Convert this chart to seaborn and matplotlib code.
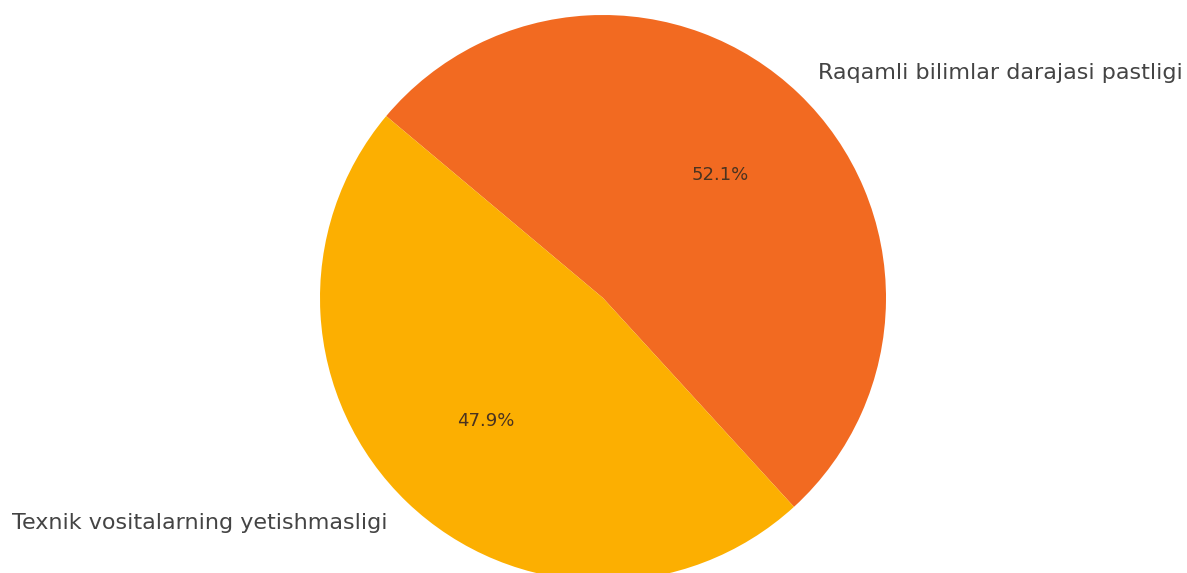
import matplotlib
matplotlib.use('Agg')
import matplotlib.pyplot as plt
import seaborn as sns

labels = ['Raqamli bilimlar darajasi pastligi', 'Texnik vositalarning yetishmasligi']
shares = [52.1, 47.9]
colors = ['#F26A21', '#FCAF01']

sns.set_style('white')
plt.rcParams['font.family'] = ['DejaVu Sans']

W, H = 1187, 573
fig = plt.figure(figsize=(W / 100, H / 100), dpi=100)

# pie radius ~283 px, centre at (603, 298) from top-left; pie is cut at the bottom
r_px = 283
side = r_px * 2.5
cx, cy = 603, H - 298
ax = fig.add_axes([(cx - side / 2) / W, (cy - side / 2) / H, side / W, side / H])

wedges, texts, autotexts = ax.pie(shares, labels=labels, colors=colors, autopct='%1.1f%%',
                                  startangle=140, counterclock=False,
                                  wedgeprops={'linewidth': 0},
                                  textprops={'fontsize': 16, 'color': '#444444'})
for t in autotexts:
    t.set_fontsize(13)
    t.set_color('#4a3320')
ax.set_xlim(-1.25, 1.25)
ax.set_ylim(-1.25, 1.25)
ax.set_aspect('equal')

fig.savefig('out.png', dpi=100)
